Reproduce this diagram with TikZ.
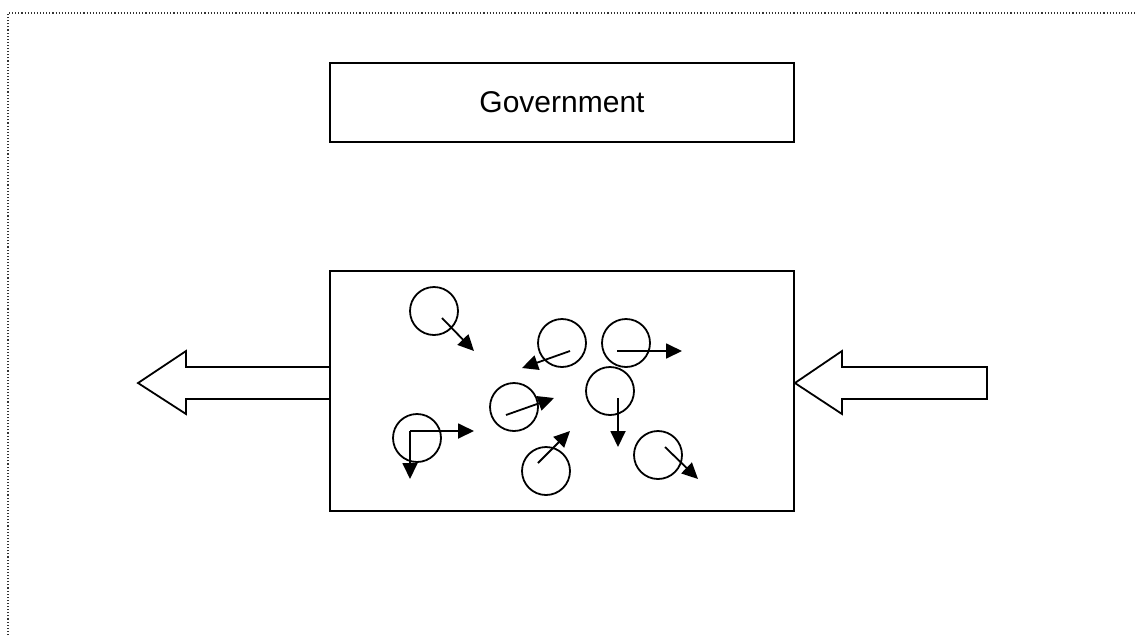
\documentclass[tikz,border=0pt]{standalone}
\usepackage{fontspec}
\setmainfont{Liberation Sans}
\usetikzlibrary{arrows.meta}
\begin{document}
\begin{tikzpicture}[x=1pt,y=-1pt,
  line width=1.8pt,
  boxline/.style={draw=black, line width=1.8pt},
  particle/.style={circle, draw=black, line width=1.8pt, minimum size=48pt, inner sep=0pt},
  motion/.style={line width=1.8pt, -{Triangle[length=16pt,width=15pt]}},
  frame/.style={line width=1.1pt, dash pattern=on 1.1pt off 2pt, draw=black!80}]
\useasboundingbox (0,0) rectangle (1135,635);
% dotted page frame (top and left edges)
\draw[frame] (8,635) -- (8,13) -- (1135,13);
% government box
\node[boxline, minimum width=464pt, minimum height=79pt, inner sep=0pt,
      font=\fontsize{30}{35}\selectfont] (gov) at (562,102.5) {Government};
% market box
\node[boxline, minimum width=464pt, minimum height=240pt, inner sep=0pt] (mkt) at (562,391) {};
% outflow arrow on the left
\draw[boxline, line join=miter] (mkt.west |- 0,367) -- (186,367) -- (186,351) -- (138,383)
  -- (186,414) -- (186,399) -- (mkt.west |- 0,399);
% inflow arrow on the right
\draw[boxline, line join=miter] (mkt.east |- 0,383) -- (842,351) -- (842,367) -- (987,367)
  -- (987,399) -- (842,399) -- (842,414) -- cycle;
% particles
\node[particle] (p1) at (434,311) {};
\node[particle] (p2) at (562,343) {};
\node[particle] (p3) at (626,343) {};
\node[particle] (p4) at (610,391) {};
\node[particle] (p5) at (514,407) {};
\node[particle] (p6) at (417,438) {};
\node[particle] (p7) at (546,471) {};
\node[particle] (p8) at (658,455) {};
% motion vectors
\coordinate (a1) at (442,318); \coordinate (b1) at (474,351);
\coordinate (a2) at (570,351); \coordinate (b2) at (522,368);
\coordinate (a3) at (617,351); \coordinate (b3) at (682,351);
\coordinate (a4) at (618,398); \coordinate (b4) at (618,447);
\coordinate (a5) at (506,415); \coordinate (b5) at (554,398);
\coordinate (a6) at (410,431); \coordinate (b6) at (474,431); \coordinate (c6) at (410,479);
\coordinate (a7) at (538,463); \coordinate (b7) at (570,431);
\coordinate (a8) at (665,447); \coordinate (b8) at (698,479);
\draw[motion] (a1) -- (b1);
\draw[motion] (a2) -- (b2);
\draw[motion] (a3) -- (b3);
\draw[motion] (a4) -- (b4);
\draw[motion] (a5) -- (b5);
\draw[motion] (a6) -- (b6);
\draw[motion] (a6) -- (c6);
\draw[motion] (a7) -- (b7);
\draw[motion] (a8) -- (b8);
\end{tikzpicture}
\end{document}
